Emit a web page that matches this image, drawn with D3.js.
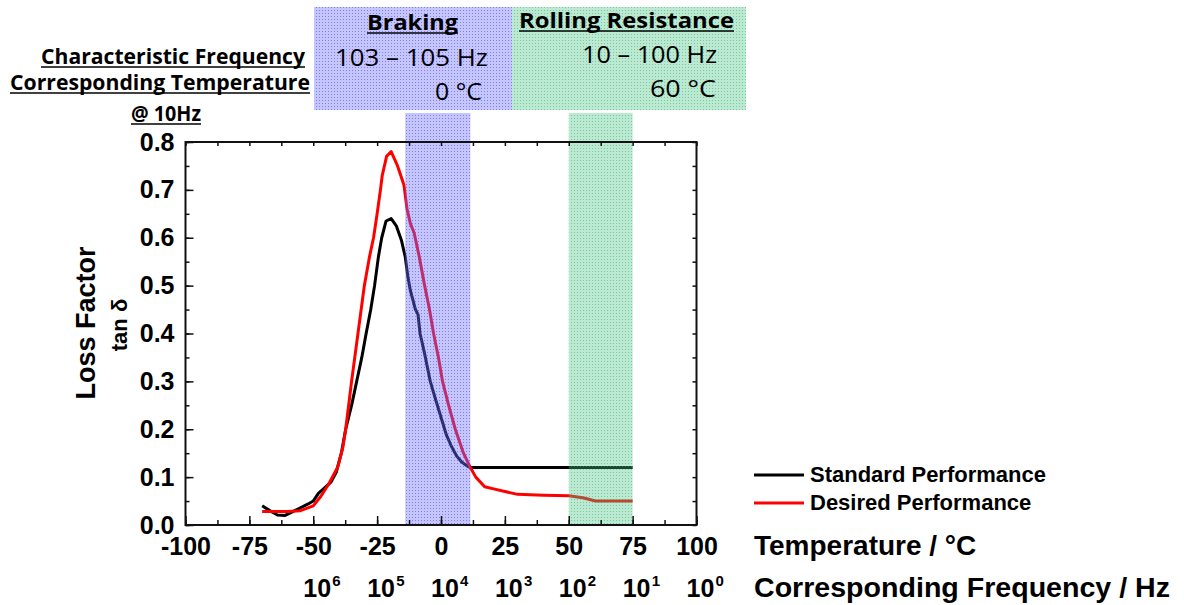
<!DOCTYPE html>
<html lang="en">
<head>
<meta charset="UTF-8">
<title>Loss Factor vs Temperature</title>
<script src="https://d3js.org/d3.v7.min.js"></script>
<style>
    body { margin: 0; background: #fff; }
    svg { display: block; }
    .tick-label { font-family: "Liberation Sans", Arial, sans-serif; font-weight: bold; }
    .hdr { font-family: "Open Sans", Lato, sans-serif; }
</style>
</head>
<body>
<div id="chart"></div>
<script>
    // Standard Performance (black)
    const stdTemp = [-70, -67, -64, -61, -58, -55, -52, -50, -48, -45, -43, -41, -39, -37.3, -35, -33, -31, -29.3, -27.5, -26, -24.5, -23.2, -21.5, -19.5, -17.5, -15.5, -14, -13, -12, -11, -10, -9, -8.2, -6.5, -4.2, -2, 0, 2, 4, 6, 8, 10, 11.5, 75];
    const stdTan  = [0.040, 0.030, 0.021, 0.020, 0.028, 0.036, 0.044, 0.050, 0.066, 0.080, 0.090, 0.110, 0.150, 0.200, 0.250, 0.300, 0.350, 0.400, 0.450, 0.500, 0.560, 0.600, 0.635, 0.640, 0.625, 0.595, 0.560, 0.520, 0.490, 0.470, 0.450, 0.440, 0.400, 0.360, 0.300, 0.260, 0.225, 0.190, 0.165, 0.145, 0.132, 0.124, 0.120, 0.120];

    // Desired Performance (red)
    const desTemp = [-70, -65, -60, -55, -50, -47, -44, -40.5, -38.5, -37.3, -35, -32.5, -30, -28, -26.4, -25, -23.7, -23, -21.3, -19.5, -17, -14.5, -13.3, -12, -10.5, -8.5, -6.4, -4.5, -2.9, -1, 0.6, 3, 5.6, 8.8, 11.5, 13.6, 17.1, 21, 25, 30, 40, 50, 55.5, 60.5, 75];
    const desTan  = [0.028, 0.028, 0.028, 0.030, 0.040, 0.060, 0.085, 0.120, 0.160, 0.200, 0.300, 0.400, 0.500, 0.560, 0.600, 0.650, 0.700, 0.730, 0.770, 0.780, 0.750, 0.710, 0.660, 0.630, 0.610, 0.560, 0.500, 0.450, 0.400, 0.350, 0.300, 0.250, 0.200, 0.150, 0.120, 0.100, 0.080, 0.075, 0.070, 0.064, 0.062, 0.061, 0.057, 0.050, 0.050];

    const xTicks = [-100, -75, -50, -25, 0, 25, 50, 75, 100];
    const yTicks = [0, 0.1, 0.2, 0.3, 0.4, 0.5, 0.6, 0.7, 0.8];
    const freqTemps = [-50, -25, 0, 25, 50, 75, 100];
    const freqExps = [6, 5, 4, 3, 2, 1, 0];

    const bandNames = ["Braking", "Rolling Resistance"];
    const bandFrom = [-14, 50];
    const bandTo = [11.5, 75];
    const bandFreq = ["103 \u2013 105 Hz", "10 \u2013 100 Hz"];
    const bandTemp = ["0 \u00b0C", "60 \u00b0C"];

    const seriesNames = ["Standard Performance", "Desired Performance"];
    const seriesColors = ["#000000", "#ff0000"];

    const W = 1184, H = 605;
    const svg = d3.select("#chart").append("svg").attr("width", W).attr("height", H);

    const x = d3.scaleLinear().domain([-100, 100]).range([185.5, 696.5]);
    const y = d3.scaleLinear().domain([0, 0.8]).range([525, 142]);

    // dotted fills for the shaded bands
    const defs = svg.append("defs");
    function dotPattern(id, base, dot) {
        const p = defs.append("pattern").attr("id", id).attr("patternUnits", "userSpaceOnUse")
            .attr("width", 3).attr("height", 3);
        p.append("rect").attr("width", 3).attr("height", 3).attr("fill", base);
        p.append("rect").attr("x", 1).attr("y", 1).attr("width", 1).attr("height", 1).attr("fill", dot);
    }
    dotPattern("patBlue", "rgba(110,110,255,0.40)", "rgba(70,70,235,0.55)");
    dotPattern("patGreen", "rgba(70,195,130,0.36)", "rgba(50,170,110,0.50)");
    const bandFill = ["url(#patBlue)", "url(#patGreen)"];

    // curves
    const line = d3.line().x(d => x(d[0])).y(d => y(d[1]));
    const series = [d3.zip(stdTemp, stdTan), d3.zip(desTemp, desTan)];
    series.forEach((s, i) => {
        svg.append("path").datum(s)
            .attr("fill", "none")
            .attr("stroke", seriesColors[i])
            .attr("stroke-width", 3)
            .attr("stroke-linejoin", "round")
            .attr("d", line);
    });

    // shaded bands over the curves
    bandNames.forEach((n, i) => {
        svg.append("rect")
            .attr("x", x(bandFrom[i])).attr("y", 113)
            .attr("width", x(bandTo[i]) - x(bandFrom[i]))
            .attr("height", 525 - 113)
            .attr("fill", bandFill[i]);
    });

    // axes
    function styleAxis(g, size) {
        g.select(".domain").remove();
        g.selectAll("line").attr("stroke", "#111").attr("stroke-width", 1.5);
        g.selectAll("text").attr("class", "tick-label").attr("font-size", size).attr("fill", "#000");
    }
    const xMinor = d3.range(-100, 100.1, 12.5);
    const yMinor = d3.range(0, 0.801, 0.05);

    svg.append("g").attr("transform", "translate(0,525)")
        .call(d3.axisBottom(x).tickValues(xMinor).tickSize(-5).tickFormat(""))
        .call(g => styleAxis(g, 0));
    svg.append("g").attr("transform", "translate(0,525)")
        .call(d3.axisBottom(x).tickValues(xTicks).tickSize(-9).tickSizeOuter(0).tickPadding(12).tickFormat(d => String(d)))
        .call(g => styleAxis(g, 25));

    svg.append("g").attr("transform", "translate(185.5,0)")
        .call(d3.axisLeft(y).tickValues(yMinor).tickSize(-4).tickFormat(""))
        .call(g => styleAxis(g, 0));
    svg.append("g").attr("transform", "translate(185.5,0)")
        .call(d3.axisLeft(y).tickValues(yTicks).tickSize(-8).tickSizeOuter(0).tickPadding(11).tickFormat(d3.format(".1f")))
        .call(g => styleAxis(g, 25));

    svg.append("g").attr("transform", "translate(0,142)")
        .call(d3.axisTop(x).tickValues(xMinor).tickSize(-4).tickFormat(""))
        .call(g => styleAxis(g, 0));
    svg.append("g").attr("transform", "translate(696.5,0)")
        .call(d3.axisRight(y).tickValues(yMinor).tickSize(-4).tickFormat(""))
        .call(g => styleAxis(g, 0));

    // frame
    svg.append("rect")
        .attr("x", 185.5).attr("y", 142)
        .attr("width", 696.5 - 185.5).attr("height", 525 - 142)
        .attr("fill", "none").attr("stroke", "#111").attr("stroke-width", 2);

    // frequency labels
    freqTemps.forEach((t, i) => {
        svg.append("text").attr("class", "tick-label")
            .attr("x", x(t) + 4).attr("y", 597)
            .attr("text-anchor", "middle").attr("font-size", 25)
            .text("10");
        svg.append("text").attr("class", "tick-label")
            .attr("x", x(t) + 19).attr("y", 586)
            .attr("font-size", 15)
            .text(freqExps[i]);
    });

    // axis titles
    svg.append("text").attr("class", "tick-label")
        .attr("transform", "translate(95,323) rotate(-90)")
        .attr("text-anchor", "middle").attr("font-size", 27)
        .text("Loss Factor");
    svg.append("text").attr("class", "tick-label")
        .attr("transform", "translate(127,325) rotate(-90)")
        .attr("text-anchor", "middle").attr("font-size", 22)
        .text("tan \u03b4");

    svg.append("text").attr("class", "tick-label")
        .attr("x", 754).attr("y", 555).attr("font-size", 28)
        .text("Temperature / \u00b0C");
    svg.append("text").attr("class", "tick-label")
        .attr("x", 754).attr("y", 597).attr("font-size", 28)
        .attr("textLength", 416).attr("lengthAdjust", "spacingAndGlyphs")
        .text("Corresponding Frequency / Hz");

    // legend
    seriesNames.forEach((n, i) => {
        const ly = 475 + i * 28;
        svg.append("line")
            .attr("x1", 754).attr("x2", 804).attr("y1", ly).attr("y2", ly)
            .attr("stroke", seriesColors[i]).attr("stroke-width", 3);
        svg.append("text").attr("class", "tick-label")
            .attr("x", 810).attr("y", ly + 7).attr("font-size", 22)
            .text(n);
    });

    // header boxes
    svg.append("rect").attr("x", 314).attr("y", 7).attr("width", 512 - 314).attr("height", 103).attr("fill", bandFill[0]);
    svg.append("rect").attr("x", 512).attr("y", 7).attr("width", 746 - 512).attr("height", 103).attr("fill", bandFill[1]);

    function hdrText(str, x0, width, base, size, bold, underline) {
        svg.append("text").attr("class", "hdr")
            .attr("x", x0).attr("y", base)
            .attr("font-size", size)
            .attr("font-weight", bold ? "bold" : "normal")
            .attr("textLength", width).attr("lengthAdjust", "spacingAndGlyphs")
            .text(str);
        if (underline) {
            svg.append("line")
                .attr("x1", x0).attr("x2", x0 + width)
                .attr("y1", base + 3).attr("y2", base + 3)
                .attr("stroke", "#000").attr("stroke-width", 1.6);
        }
    }
    hdrText(bandNames[0], 367, 91, 30, 22, true, true);
    hdrText(bandNames[1], 519, 215, 28, 22, true, true);
    hdrText(bandFreq[0], 335, 153, 66, 23, false, false);
    hdrText(bandTemp[0], 435, 47, 100, 23, false, false);
    hdrText(bandFreq[1], 582, 135, 63, 23, false, false);
    hdrText(bandTemp[1], 650, 66, 97, 23, false, false);
    hdrText("Characteristic Frequency", 41, 264, 64, 21, true, true);
    hdrText("Corresponding Temperature", 10, 300, 90, 21, true, true);
    hdrText("@ 10Hz", 131, 70, 121, 21, true, true);
</script>
</body>
</html>
